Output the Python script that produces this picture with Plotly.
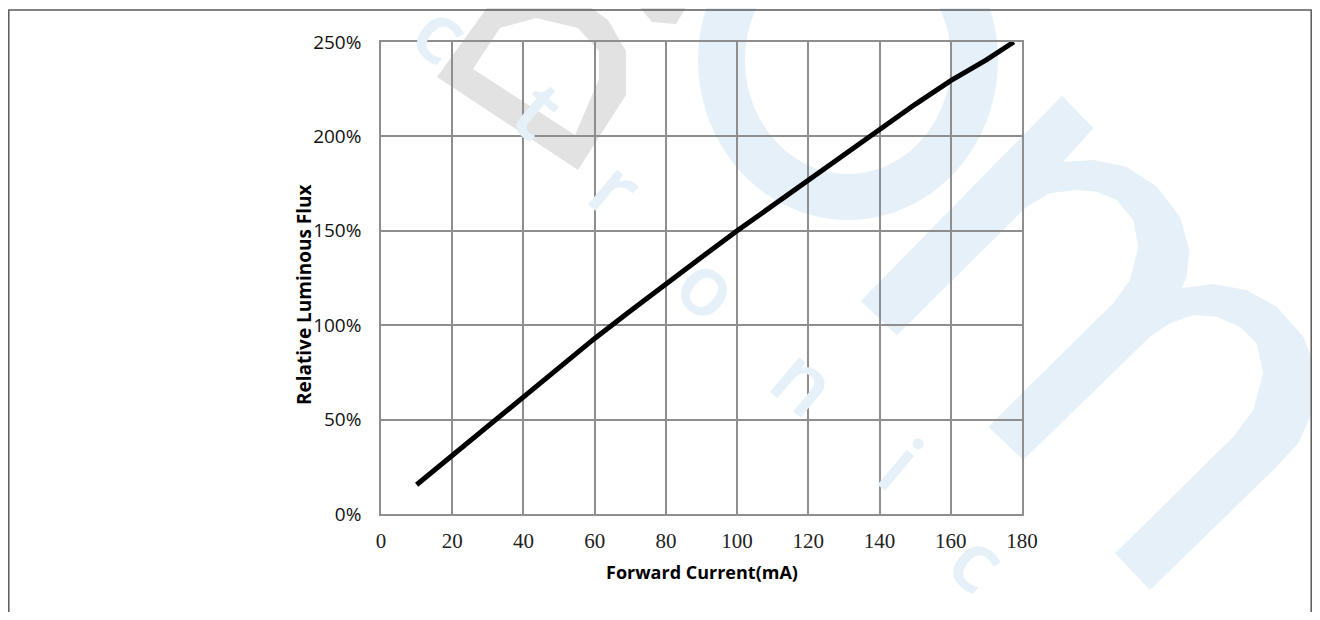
import numpy as np
import plotly.graph_objects as go

# ---------------- data ----------------
current_mA = [10, 20, 30, 40, 50, 60, 70, 80, 90, 100, 110, 120, 130, 140, 150, 160, 170, 177.7]
rel_flux_pct = [15.5, 31, 46.5, 62, 77.5, 93, 107.5, 122, 136, 150, 163.5, 177, 190.5, 204, 217, 229.5, 240.5, 250]
x_ticks = [0, 20, 40, 60, 80, 100, 120, 140, 160, 180]
y_ticks = [0, 50, 100, 150, 200, 250]
y_tick_labels = ["0%", "50%", "100%", "150%", "200%", "250%"]
x_title = "Forward Current(mA)"
y_title = "Relative Luminous Flux"
wm_letters = ["c", "t", "r", "o", "n", "i", "c"]

# ---------------- layout geometry (reference page pixels; page has 8px body margin) ----------------
PAGE_OFF = 8
W, H = 1320 - 2 * PAGE_OFF, 620 - 2 * PAGE_OFF
PLOT_L, PLOT_R, PLOT_T, PLOT_B = 381, 1022, 42, 514   # page pixel edges of the plot area
L, T = PLOT_L - PAGE_OFF, PLOT_T - PAGE_OFF
R, B = W - (PLOT_R - PAGE_OFF), H - (PLOT_B - PAGE_OFF)
PW, PH = PLOT_R - PLOT_L, PLOT_B - PLOT_T


def px(x):
    return (x - PLOT_L) / PW


def py(y):
    return (PLOT_B - y) / PH


def path_from(pts_list):
    s = ""
    for pts in pts_list:
        s += "M " + " L ".join(f"{px(x):.4f},{py(y):.4f}" for x, y in pts) + " Z "
    return s


def ellipse_pts(cx, cy, a, b, n=90):
    t = np.linspace(0, 2 * np.pi, n, endpoint=False)
    return list(zip(cx + a * np.cos(t), cy + b * np.sin(t)))


BLUE = "#e5f0f8"
GRAY = "#e2e2e2"

shapes = []
# big "O" ring
shapes.append(dict(type="path", xref="paper", yref="paper", layer="below",
                   path=path_from([ellipse_pts(848, 60, 150, 160), ellipse_pts(848, 60, 103, 114)]),
                   fillcolor=BLUE, line=dict(width=0), fillrule="evenodd"))
# diagonal band
shapes.append(dict(type="path", xref="paper", yref="paper", layer="below",
                   path=path_from([[(1062, 96), (1093, 128), (897, 335), (861, 301)]]),
                   fillcolor=BLUE, line=dict(width=0)))
# "m" body
m_pts = [(1062, 96), (1093.3, 128.3), (1063.3, 161.7), (1093.3, 160), (1126.7, 166.7), (1156.7, 186.7),
         (1180, 216.7), (1189.3, 250), (1186.7, 276.7), (1181.7, 288.3), (1213.3, 284), (1246.7, 290),
         (1276.7, 306.7), (1303.3, 336.7), (1315, 366.7), (1313.3, 410), (1298.3, 443.3), (1273.3, 470),
         (1150, 590), (1115, 553.3), (1233.3, 436.7), (1253.3, 410), (1263.3, 373.3), (1256.7, 343.3),
         (1240, 326.7), (1216.7, 316.7), (1193.3, 315), (1170, 323.3), (1150, 336.7), (1023.3, 460),
         (988.3, 426.7), (1113.3, 303.3), (1130, 280), (1138.3, 246.7), (1133.3, 220), (1116.7, 200),
         (1096.7, 191.7), (1075, 190), (1050, 193.3), (1026.7, 206.7), (897, 335), (861, 301)]
shapes.append(dict(type="path", xref="paper", yref="paper", layer="below",
                   path=path_from([m_pts]), fillcolor=BLUE, line=dict(width=0)))
# gray "D"
d_outer = [(437, 77), (494, -2), (578, -2), (608, 20), (626, 51), (626, 95), (578, 170)]
d_inner = [(473, 69), (500, 28), (536, 18), (578, 28), (599, 51), (599, 79), (575, 135)]
shapes.append(dict(type="path", xref="paper", yref="paper", layer="below",
                   path=path_from([d_outer, d_inner]), fillcolor=GRAY, line=dict(width=0),
                   fillrule="evenodd"))
shapes.append(dict(type="path", xref="paper", yref="paper", layer="below",
                   path=path_from([[(632, -2), (692, -2), (676, 24), (652, 22)]]),
                   fillcolor=GRAY, line=dict(width=0)))
# outer frame (left / top / right edges)
shapes.append(dict(type="rect", xref="paper", yref="paper", layer="above",
                   x0=px(8.8), x1=px(1311.2), y0=py(10), y1=py(660),
                   line=dict(color="#5a5a5a", width=1.5), fillcolor="rgba(0,0,0,0)"))

letter_pos = [(437, 38), (533, 115), (611, 194), (704, 291), (800, 386), (896, 469), (974, 566)]
annotations = []
for ch, (lx, ly) in zip(wm_letters, letter_pos):
    annotations.append(dict(text=ch, xref="paper", yref="paper", x=px(lx + 6), y=py(ly - 7),
                            xanchor="center", yanchor="middle", showarrow=False, textangle=40,
                            font=dict(family="Open Sans", size=84, color=BLUE, weight=600)))
# axis titles
annotations.append(dict(text=f"<b>{x_title}</b>", xref="paper", yref="paper",
                        x=px(702), y=py(572), xanchor="center", yanchor="middle", showarrow=False,
                        font=dict(family="Open Sans", size=18, color="#000000")))
annotations.append(dict(text=f"<b>{y_title}</b>", xref="paper", yref="paper",
                        x=px(304), y=py(295), xanchor="center", yanchor="middle", showarrow=False,
                        textangle=-90, font=dict(family="Open Sans", size=19, color="#000000")))

fig = go.Figure()
fig.add_trace(go.Scatter(x=current_mA, y=rel_flux_pct, mode="lines",
                         line=dict(color="#000000", width=5),
                         hoverinfo="skip", showlegend=False))

GRID = "#8e8e8e"
fig.update_layout(
    width=W, height=H,
    margin=dict(l=L, r=R, t=T, b=B),
    paper_bgcolor="#ffffff",
    plot_bgcolor="rgba(0,0,0,0)",
    showlegend=False,
    shapes=shapes,
    annotations=annotations,
    xaxis=dict(range=[0, 180], tickvals=x_ticks, ticktext=[str(v) for v in x_ticks],
               showgrid=True, gridcolor=GRID, gridwidth=1.5,
               showline=True, linecolor=GRID, linewidth=1.5, mirror=True,
               zeroline=False, ticks="", ticklabelstandoff=7,
               tickfont=dict(family="Liberation Serif", size=21, color="#222222")),
    yaxis=dict(range=[0, 250], tickvals=y_ticks, ticktext=y_tick_labels,
               showgrid=True, gridcolor=GRID, gridwidth=1.5,
               showline=True, linecolor=GRID, linewidth=1.5, mirror=True,
               zeroline=False, ticks="", ticklabelstandoff=14,
               tickfont=dict(family="Open Sans", size=19, color="#111111")),
)

fig.write_html("out.html")
